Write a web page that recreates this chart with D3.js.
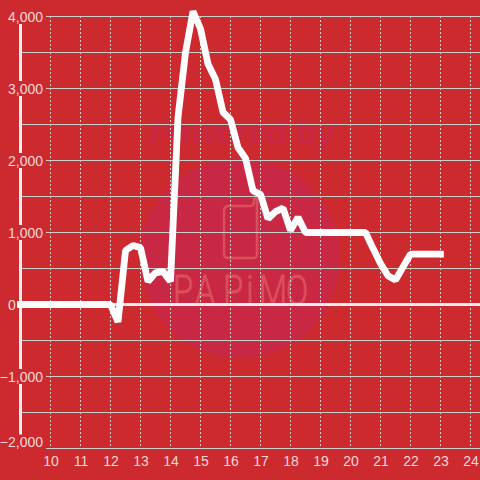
<!DOCTYPE html>
<html><head><meta charset="utf-8">
<script src="https://cdn.jsdelivr.net/npm/d3@7"></script>
<style>html,body{margin:0;padding:0;background:#cc2a2e}svg{display:block}text{font-family:"Liberation Sans",Arial,sans-serif}</style>
</head><body><svg id="c" width="480" height="480"></svg>
<script>
const hours=[9,12,12.25,12.5,12.75,13,13.25,13.5,13.75,14,14.25,14.5,14.75,15,15.25,15.5,15.75,16,16.25,16.5,16.75,17,17.25,17.5,17.75,18,18.25,18.5,20.5,20.75,21,21.25,21.5,21.75,22,23];
const values=[0,0,-240,750,820,790,320,440,460,320,2600,3500,4070,3830,3340,3130,2670,2570,2180,2030,1580,1530,1190,1290,1340,1030,1210,1000,1000,780,570,400,340,520,700,700];
const xTicks=[10,11,12,13,14,15,16,17,18,19,20,21,22,23,24];
const yMajor=[4000,3000,2000,1000,-1000];
const yMinor=[3500,2500,1500,500,-500,-1500];
const bg="#cc2a2e",grid="#c8d0cc",labelCol="#f6d8d8",axisCol="#f2eeee",wm="#c92845",wmLine="#d9505c";

const svg=d3.select("#c");
const x=d3.scaleLinear().domain([9,24]).range([20.5,470.5]);
const y=d3.scaleLinear().domain([-2000,4000]).range([448.5,16.5]);
svg.append("rect").attr("width",480).attr("height",480).attr("fill",bg);

// watermark
svg.append("circle").attr("cx",240).attr("cy",258).attr("r",100).attr("fill",wm);
svg.append("text").attr("x",242).attr("y",144).attr("text-anchor","middle").attr("font-size",33)
  .attr("font-weight","bold").attr("font-style","italic").attr("fill",wm).attr("textLength",186).text("Powered by");
svg.append("path").attr("fill","none").attr("stroke",wmLine).attr("stroke-width",2.5)
  .attr("d","M229 206H250Q254 206 254 202V199Q255 197 257 199V254Q257 258 253 258H228Q224 258 224 254V211Q224 206 229 206Z");
svg.append("text").attr("transform","translate(173,305) scale(.78,1)").attr("x","0 28 64 94 110 145").attr("y",0).attr("font-size",42)
  .attr("style","font-family:Roboto;font-weight:300").attr("fill",wmLine).attr("stroke",wmLine).attr("stroke-width",0.8).text("PAPiMO");

// horizontal grid
svg.append("g").selectAll("line").data(yMajor.concat(yMinor,[-2000])).join("line")
  .attr("x1",20).attr("x2",480).attr("y1",d=>y(d)).attr("y2",d=>y(d)).attr("stroke",grid).attr("stroke-width",1);
// vertical dashed grid
svg.append("g").selectAll("line").data(xTicks).join("line")
  .attr("x1",d=>x(d)).attr("x2",d=>x(d)).attr("y1",16).attr("y2",446).attr("stroke",grid).attr("stroke-dasharray","2,2");
// axis line
svg.append("line").attr("x1",20.5).attr("x2",20.5).attr("y1",24).attr("y2",448).attr("stroke",axisCol).attr("stroke-width",3);

// y labels with masking background
const fmt=d3.format(",");
const yl=svg.append("g").selectAll("g").data(yMajor).join("g");
yl.append("rect").attr("x",d=>d<0?2:6).attr("width",d=>d<0?44:40).attr("y",d=>y(d)-7.5).attr("height",15).attr("fill",bg);
yl.append("text").attr("x",43).attr("y",d=>y(d)+5).attr("text-anchor","end").attr("font-size",14).attr("fill",labelCol).text(d=>fmt(d));
// bottom label sits above its gridline
const bottomLabel=-2000;
svg.append("rect").attr("x",2).attr("width",44).attr("y",y(bottomLabel)-14).attr("height",16).attr("fill",bg);
svg.append("text").attr("x",43).attr("y",y(bottomLabel)-2).attr("text-anchor","end").attr("font-size",14).attr("fill",labelCol).text(fmt(bottomLabel));
// zero label and zero line
const zeroLabel=0;
svg.append("line").attr("x1",17).attr("x2",480).attr("y1",y(zeroLabel)).attr("y2",y(zeroLabel)).attr("stroke",axisCol).attr("stroke-width",3);
svg.append("text").attr("x",8).attr("y",y(zeroLabel)+5).attr("font-size",14).attr("fill",labelCol).text(zeroLabel);
// x labels
svg.append("g").selectAll("text").data(xTicks).join("text")
  .attr("x",d=>x(d)+0.5).attr("y",466).attr("text-anchor","middle").attr("font-size",14).attr("fill",labelCol).text(d=>d);

// series
const line=d3.line().x(d=>x(d[0])).y(d=>y(d[1]));
svg.append("path").datum(hours.map((h,i)=>[h,values[i]])).attr("d",line).attr("fill","none")
  .attr("stroke","#fff").attr("stroke-width",6.8).attr("stroke-linejoin","bevel").attr("stroke-linecap","square");
</script></body></html>
